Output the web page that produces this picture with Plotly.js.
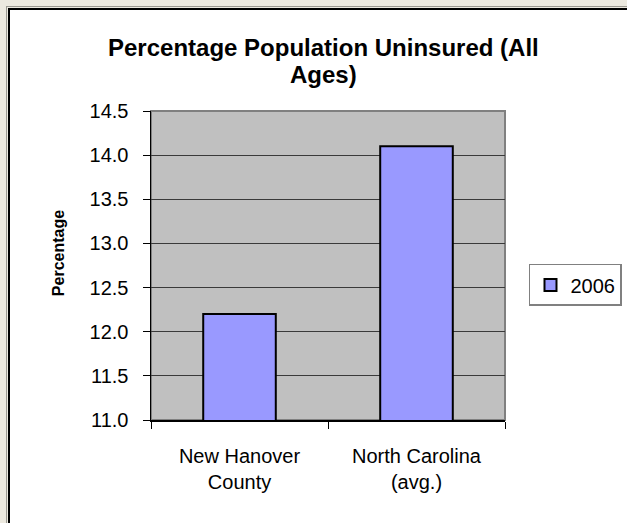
<!DOCTYPE html>
<html>
<head>
<meta charset="utf-8">
<script src="https://cdn.plot.ly/plotly-3.0.1.min.js"></script>
<style>
  html, body { margin:0; padding:0; background:#ece9df; width:627px; height:523px; overflow:hidden; }
  #frame { position:absolute; left:6px; top:6px; width:621px; height:517px; border-left:1px solid #9a9890; border-top:1px solid #9a9890; }
  #chart { position:absolute; left:1px; top:1px; width:618px; height:514px; border-left:2px solid #000; border-top:2px solid #000; background:#fff; }
</style>
</head>
<body>
<div id="frame"><div id="chart"></div></div>
<script>
const categories = ["New Hanover<br>County", "North Carolina<br>(avg.)"];
const values2006 = [12.2, 14.1];
const seriesName = "2006";
const titleLines = ["Percentage Population Uninsured (All", "Ages)"];
const yTitle = "Percentage";

const FONT = 'Arial, "Liberation Sans", sans-serif';

const trace = {
  type: 'bar',
  x: categories,
  y: values2006,
  name: seriesName,
  marker: { color: '#9999ff', line: { color: '#000', width: 2 } },
  showlegend: true,
  hoverinfo: 'skip'
};

const titleY = [1.205, 1.117];
const annotations = titleLines.map((t, i) => ({
  text: '<b>' + t + '</b>', xref: 'paper', yref: 'paper',
  x: 0.4887, y: titleY[i], xanchor: 'center', yanchor: 'middle',
  showarrow: false, font: { family: FONT, size: 24, color: '#000' }
}));
annotations.push({
  text: '<b>' + yTitle + '</b>', xref: 'paper', yref: 'paper',
  x: -0.2627, y: 0.54, xanchor: 'center', yanchor: 'middle', textangle: -90,
  showarrow: false, font: { family: FONT, size: 16, color: '#000' }
});

const layout = {
  width: 618, height: 514,
  margin: { l: 141, r: 123, t: 101, b: 104, pad: 0 },
  paper_bgcolor: '#fff',
  plot_bgcolor: '#c0c0c0',
  font: { family: FONT, size: 20, color: '#000' },
  bargap: 0.59,
  xaxis: {
    type: 'category',
    showline: true, linecolor: '#000', linewidth: 1.5,
    ticks: 'outside', tickson: 'boundaries', ticklen: 7, tickcolor: '#000', tickwidth: 1,
    tickfont: { family: FONT, size: 20, color: '#000' },
    ticklabelstandoff: 17,
    showgrid: false, zeroline: false, fixedrange: true
  },
  yaxis: {
    range: [11, 14.5], dtick: 0.5, tick0: 11, tickformat: '.1f',
    showline: true, linecolor: '#000', linewidth: 1.5,
    ticks: 'outside', ticklen: 7, tickcolor: '#000', tickwidth: 1,
    tickfont: { family: FONT, size: 20, color: '#000' },
    ticklabelstandoff: 10,
    showgrid: true, gridcolor: '#3a3a3a', gridwidth: 1,
    zeroline: false, fixedrange: true
  },
  shapes: [
    { type: 'rect', xref: 'paper', yref: 'paper', x0: 0, x1: 1, y0: 0, y1: 1,
      line: { color: '#808080', width: 2 }, layer: 'below' }
  ],
  annotations: annotations,
  legend: {
    xref: 'container', yref: 'container',
    x: 0.8398, y: 0.465, xanchor: 'left', yanchor: 'middle',
    bgcolor: '#fff', bordercolor: '#808080', borderwidth: 1.5,
    font: { family: FONT, size: 20, color: '#000' },
    itemwidth: 30
  }
};

Plotly.newPlot('chart', [trace], layout, { displayModeBar: false, staticPlot: true });
</script>
</body>
</html>
